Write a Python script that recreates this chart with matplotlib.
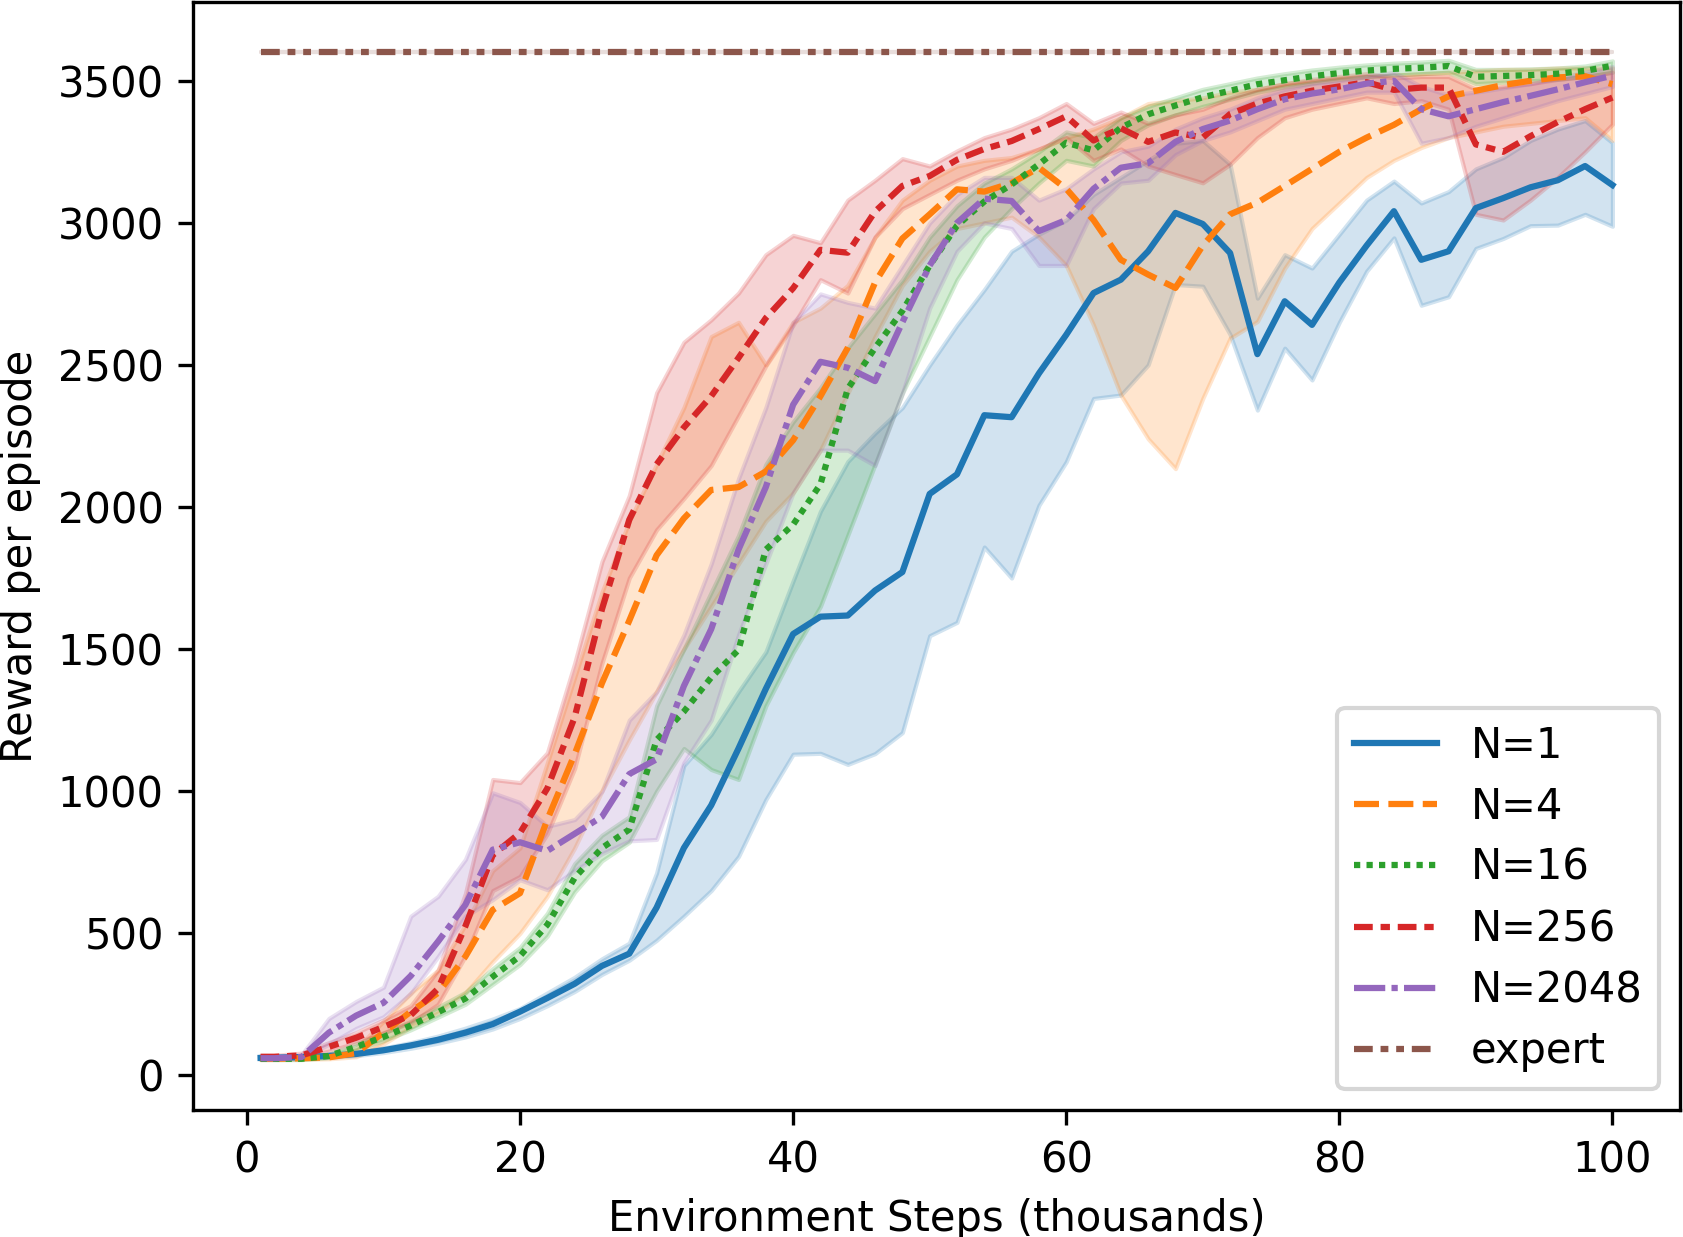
import numpy as np
import matplotlib
matplotlib.use('Agg')
from matplotlib import pyplot as plt

# environment steps (thousands)
steps = [1, 2, 4, 6, 8, 10, 12, 14, 16, 18, 20, 22, 24, 26, 28, 30, 32, 34, 36, 38,
         40, 42, 44, 46, 48, 50, 52, 54, 56, 58, 60, 62, 64, 66, 68, 70, 72, 74, 76, 78,
         80, 82, 84, 86, 88, 90, 92, 94, 96, 98, 100]

# N=1
n1_mean = [61, 62, 64, 68, 75, 88, 105, 125, 150, 180, 224, 272, 322, 385, 428, 590, 800, 950, 1150, 1360,
           1553, 1614, 1618, 1706, 1771, 2046, 2115, 2323, 2316, 2470, 2606, 2753, 2800, 2900, 3035, 2996, 2894, 2538, 2724, 2641,
           2790, 2920, 3041, 2870, 2900, 3052, 3087, 3125, 3150, 3200, 3133]
n1_lo = [58, 59, 60, 63, 69, 80, 95, 113, 135, 163, 200, 245, 295, 355, 405, 475, 560, 650, 770, 970,
         1130, 1133, 1094, 1132, 1206, 1547, 1594, 1859, 1750, 2006, 2159, 2382, 2394, 2500, 2783, 2777, 2607, 2341, 2559, 2447,
         2650, 2830, 2947, 2710, 2740, 2910, 2945, 2990, 2992, 3030, 2988]
n1_hi = [66, 66, 69, 74, 82, 96, 115, 138, 166, 198, 235, 290, 345, 410, 465, 712, 1090, 1200, 1350, 1490,
         1740, 1985, 2160, 2260, 2350, 2500, 2640, 2765, 2900, 2960, 3010, 3100, 3160, 3220, 3280, 3290, 3206, 2735, 2888, 2841,
         2960, 3080, 3147, 3070, 3110, 3190, 3230, 3290, 3330, 3360, 3282]

# N=4
n4_mean = [58, 58, 60, 63, 78, 150, 224, 290, 418, 582, 641, 900, 1130, 1380, 1600, 1830, 1960, 2060, 2070, 2125,
           2235, 2390, 2560, 2790, 2945, 3030, 3118, 3110, 3140, 3194, 3120, 3010, 2870, 2818, 2771, 2920, 3030, 3071, 3130, 3190,
           3250, 3300, 3345, 3400, 3445, 3465, 3485, 3500, 3512, 3516, 3488]
n4_lo = [55, 55, 56, 58, 65, 110, 170, 220, 290, 400, 500, 630, 800, 1000, 1180, 1350, 1500, 1650, 1800, 1950,
         2050, 2200, 2400, 2600, 2780, 2900, 2980, 3000, 3020, 2950, 2850, 2640, 2394, 2240, 2135, 2382, 2594, 2653, 2840, 2980,
         3070, 3160, 3220, 3265, 3300, 3320, 3340, 3350, 3360, 3370, 3290]
n4_hi = [62, 62, 64, 70, 95, 190, 290, 370, 530, 720, 800, 1100, 1400, 1700, 1950, 2150, 2350, 2600, 2650, 2500,
         2650, 2700, 2780, 2950, 3080, 3150, 3200, 3220, 3230, 3260, 3300, 3330, 3370, 3420, 3430, 3440, 3460, 3470, 3490, 3500,
         3510, 3515, 3520, 3525, 3530, 3535, 3540, 3540, 3545, 3545, 3545]

# N=16
n16_mean = [58, 58, 58, 68, 100, 135, 175, 222, 270, 347, 420, 530, 695, 800, 865, 1180, 1280, 1400, 1497, 1850,
            1938, 2080, 2416, 2560, 2690, 2850, 2990, 3075, 3135, 3206, 3282, 3255, 3335, 3382, 3413, 3442, 3465, 3488, 3502, 3516,
            3527, 3536, 3542, 3546, 3552, 3514, 3517, 3520, 3525, 3535, 3553]
n16_lo = [55, 55, 55, 62, 90, 122, 160, 205, 250, 320, 390, 490, 645, 755, 820, 1000, 1150, 1076, 1041, 1300,
          1488, 1650, 1900, 2150, 2400, 2600, 2800, 2950, 3050, 3140, 3220, 3200, 3290, 3345, 3380, 3410, 3435, 3460, 3478, 3492,
          3505, 3514, 3520, 3525, 3530, 3490, 3495, 3500, 3505, 3515, 3530]
n16_hi = [61, 61, 62, 75, 110, 148, 190, 240, 292, 375, 450, 570, 745, 845, 910, 1300, 1500, 1700, 1900, 2150,
          2300, 2420, 2560, 2680, 2800, 2950, 3060, 3140, 3190, 3250, 3320, 3300, 3370, 3410, 3440, 3470, 3490, 3510, 3525, 3538,
          3548, 3556, 3562, 3566, 3572, 3540, 3540, 3542, 3545, 3552, 3570]

# N=256
n256_mean = [65, 65, 70, 100, 132, 170, 212, 305, 525, 775, 853, 1010, 1260, 1640, 1955, 2150, 2280, 2390, 2525, 2665,
             2770, 2905, 2895, 3040, 3130, 3165, 3222, 3260, 3288, 3330, 3375, 3290, 3333, 3285, 3318, 3300, 3383, 3420, 3445, 3465,
             3480, 3495, 3468, 3476, 3476, 3276, 3250, 3305, 3355, 3400, 3441]
n256_lo = [60, 60, 63, 85, 115, 150, 185, 250, 420, 650, 700, 850, 1080, 1450, 1750, 1920, 2030, 2146, 2321, 2497,
           2640, 2800, 2753, 2950, 3050, 3100, 3150, 3190, 3220, 3260, 3300, 3220, 3260, 3200, 3170, 3141, 3206, 3300, 3370, 3400,
           3420, 3440, 3420, 3430, 3400, 3030, 3010, 3080, 3160, 3250, 3347]
n256_hi = [70, 70, 78, 115, 150, 195, 245, 370, 640, 1041, 1030, 1135, 1450, 1808, 2040, 2402, 2580, 2659, 2753, 2888,
           2956, 2930, 3080, 3150, 3226, 3200, 3253, 3300, 3330, 3370, 3420, 3350, 3390, 3350, 3380, 3400, 3440, 3470, 3490, 3505,
           3515, 3525, 3510, 3515, 3515, 3470, 3480, 3490, 3505, 3515, 3530]

# N=2048
n2048_mean = [60, 60, 64, 150, 210, 255, 350, 471, 600, 794, 820, 790, 850, 910, 1060, 1112, 1370, 1570, 1850, 2070,
              2360, 2511, 2490, 2443, 2650, 2850, 3000, 3085, 3077, 2971, 3010, 3120, 3194, 3210, 3285, 3330, 3360, 3400, 3435, 3455,
              3470, 3490, 3500, 3400, 3375, 3400, 3425, 3447, 3470, 3495, 3518]
n2048_lo = [56, 56, 58, 110, 165, 206, 288, 418, 560, 618, 688, 653, 720, 780, 825, 830, 1100, 1250, 1550, 1800,
            2050, 2200, 2200, 2146, 2400, 2700, 2900, 3000, 2980, 2850, 2850, 3050, 3140, 3150, 3240, 3290, 3320, 3360, 3400, 3420,
            3440, 3460, 3460, 3280, 3300, 3340, 3370, 3400, 3430, 3455, 3480]
n2048_hi = [64, 64, 72, 200, 260, 310, 560, 630, 760, 994, 960, 876, 900, 1000, 1250, 1350, 1550, 1800, 2100, 2350,
            2650, 2750, 2720, 2700, 2850, 3000, 3100, 3160, 3160, 3080, 3120, 3190, 3250, 3270, 3330, 3370, 3400, 3440, 3470, 3490,
            3500, 3515, 3530, 3480, 3450, 3460, 3475, 3490, 3510, 3530, 3550]

# expert reward (constant)
expert_value = 3600
expert = np.full(len(steps), expert_value)

labels = ['N=1', 'N=4', 'N=16', 'N=256', 'N=2048', 'expert']
colors = ['#1f77b4', '#ff7f0e', '#2ca02c', '#d62728', '#9467bd', '#8c564b']
# seaborn style dashes
dashes = ['', (4, 1.5), (1, 1), (3, 1.25, 1.5, 1.25), (5, 1, 1, 1), (3, 1.25, 1.25, 1.25, 1.25, 1.25)]

series = [
    (n1_mean, n1_lo, n1_hi),
    (n4_mean, n4_lo, n4_hi),
    (n16_mean, n16_lo, n16_hi),
    (n256_mean, n256_lo, n256_hi),
    (n2048_mean, n2048_lo, n2048_hi),
    (expert, expert, expert),
]

fig = plt.figure(figsize=(1683 / 300, 1237 / 300), dpi=300)
ax = fig.add_axes([193 / 1683, 127 / 1237, 1487 / 1683, 1108 / 1237])

for (m, lo, hi), lab, c, d in zip(series, labels, colors, dashes):
    if d == '':
        ax.plot(steps, m, color=c, lw=1.5, label=lab)
    else:
        ax.plot(steps, m, color=c, lw=1.5, dashes=d, label=lab)
    ax.fill_between(steps, lo, hi, color=c, alpha=0.2)

ax.set_xlabel('Environment Steps (thousands)')
ax.set_ylabel('Reward per episode')
ax.legend(loc='lower right', labelspacing=0.46)

fig.savefig('out.png', dpi=300)
